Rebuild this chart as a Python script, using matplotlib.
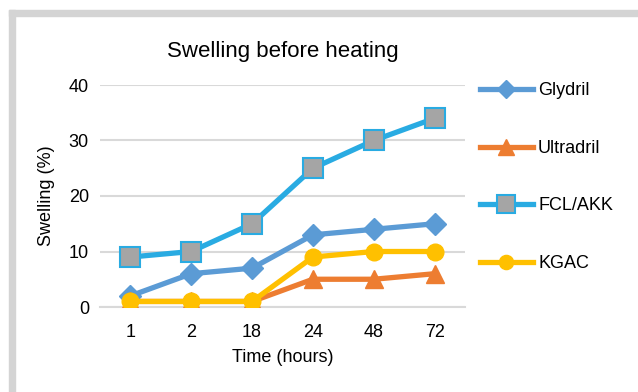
import matplotlib.pyplot as plt
from matplotlib.patches import Rectangle
import numpy as np

times = ["1", "2", "18", "24", "48", "72"]
glydril = [2, 6, 7, 13, 14, 15]
ultradril = [1, 1, 1, 5, 5, 6]
fcl_akk = [9, 10, 15, 25, 30, 34]
kgac = [1, 1, 1, 9, 10, 10]

plt.rcParams['font.family'] = ['Liberation Sans', 'DejaVu Sans']

W, H = 638, 392
fig = plt.figure(figsize=(W / 100, H / 100), dpi=100)

# grey frame on left and top (cropped chart border)
fig.patches.append(Rectangle((9 / W, 0), 6 / W, (H - 10) / H, transform=fig.transFigure,
                             color='#d4d4d4', zorder=0))
fig.patches.append(Rectangle((9 / W, (H - 16) / H), 1 - 9 / W, 6 / H, transform=fig.transFigure,
                             color='#d4d4d4', zorder=0))

ax = fig.add_axes([100 / W, (H - 307) / H, 365 / W, 222 / H])
x = np.arange(len(times))

ax.plot(x, glydril, color='#5b9bd5', lw=3.8, marker='D', ms=11, mfc='#5b9bd5', mec='#5b9bd5',
        label='Glydril', zorder=3)
ax.plot(x, ultradril, color='#ed7d31', lw=3.8, marker='^', ms=13, mfc='#ed7d31', mec='#ed7d31',
        label='Ultradril', zorder=3)
ax.plot(x, fcl_akk, color='#29abe2', lw=3.8, marker='s', ms=15, mfc='#a5a5a5', mec='#29abe2',
        mew=1.5, label='FCL/AKK', zorder=3)
ax.plot(x, kgac, color='#ffc000', lw=3.8, marker='o', ms=12, mfc='#ffc000', mec='#ffc000',
        label='KGAC', zorder=4)

ax.set_xlim(-0.5, len(times) - 0.5)
ax.set_ylim(0, 40)
ax.set_yticks([0, 10, 20, 30, 40])
ax.set_xticks(x)
ax.set_xticklabels(times)
ax.tick_params(length=0, labelsize=13, pad=8)
ax.tick_params(axis='x', pad=12)
ax.grid(axis='y', color='#d9d9d9', lw=1.5)
ax.set_axisbelow(True)
for s in ['top', 'right', 'left']:
    ax.spines[s].set_visible(False)
ax.spines['bottom'].set_color('#d9d9d9')
ax.spines['bottom'].set_linewidth(1.5)

ax.set_title('Swelling before heating', fontsize=16, pad=20)
ax.set_ylabel('Swelling (%)', fontsize=13, labelpad=10)
ax.set_xlabel('Time (hours)', fontsize=13, labelpad=6)

leg = fig.legend(loc='upper left', bbox_to_anchor=(464 / W, (H - 66) / H), frameon=False,
                 fontsize=13, labelspacing=2.25, handlelength=2.9, handletextpad=0.3,
                 markerscale=0.85)

fig.savefig('out.png', dpi=100)
